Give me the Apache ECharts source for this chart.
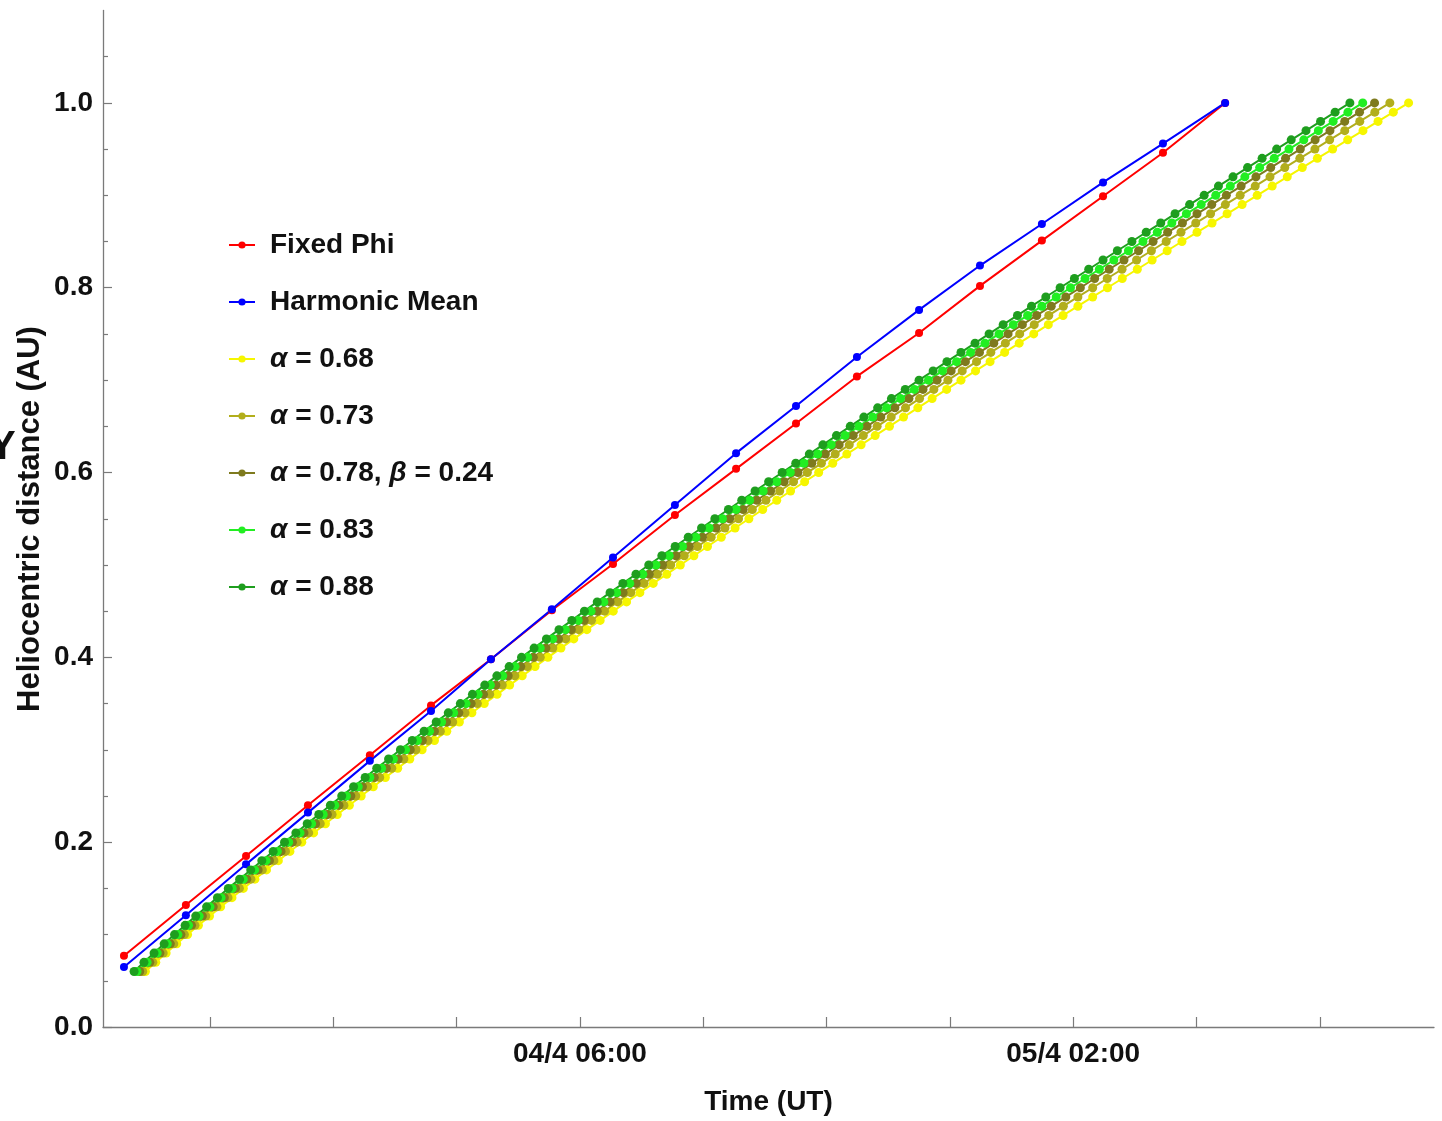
<!DOCTYPE html>
<html>
<head>
<meta charset="utf-8">
<script src="https://cdn.jsdelivr.net/npm/echarts@6/dist/echarts.min.js"></script>
<style>
html,body{margin:0;padding:0;background:#fff;}
#chart{width:1442px;height:1121px;}
</style>
</head>
<body>
<div id="chart"></div>
<script>
// x values: hours after 04/4 01:00 UT
const xTickValues = [-10, -5, 0, 5, 10, 15, 20, 25, 30, 35];
const xLabelValues = [5, 25];
const xLabelTexts = ['04/4 06:00', '05/4 02:00'];
const yTickValues = [0, 0.2, 0.4, 0.6, 0.8, 1.0];

const seriesNames = ['Fixed Phi', 'Harmonic Mean', 'α = 0.68', 'α = 0.73', 'α = 0.78, β = 0.24', 'α = 0.83', 'α = 0.88'];
const seriesColors = ['#ff0000', '#0000ff', '#f6f600', '#b2ae1c', '#7e7a1e', '#22ee22', '#1e9e1e'];

// Fixed Phi / Harmonic Mean sample times and distances
const phiTimes = [-13.49, -10.98, -8.54, -6.03, -3.52, -1.04, 1.39, 3.86, 6.34, 8.85, 11.33, 13.76, 16.23, 18.75, 21.22, 23.73, 26.21, 28.64, 31.16];
const fixedPhi = [0.077, 0.132, 0.185, 0.240, 0.294, 0.348, 0.398, 0.451, 0.501, 0.554, 0.604, 0.653, 0.704, 0.751, 0.802, 0.851, 0.899, 0.946, 1.000];
const harmonicMean = [0.065, 0.121, 0.176, 0.232, 0.288, 0.342, 0.398, 0.452, 0.508, 0.565, 0.621, 0.672, 0.725, 0.776, 0.824, 0.869, 0.914, 0.956, 1.000];

// distances of the alpha-series samples
const distanceGrid = [
 0.06,0.07,0.08,0.09,0.10,0.11,0.12,0.13,0.14,0.15,
 0.16,0.17,0.18,0.19,0.20,0.21,0.22,0.23,0.24,0.25,
 0.26,0.27,0.28,0.29,0.30,0.31,0.32,0.33,0.34,0.35,
 0.36,0.37,0.38,0.39,0.40,0.41,0.42,0.43,0.44,0.45,
 0.46,0.47,0.48,0.49,0.50,0.51,0.52,0.53,0.54,0.55,
 0.56,0.57,0.58,0.59,0.60,0.61,0.62,0.63,0.64,0.65,
 0.66,0.67,0.68,0.69,0.70,0.71,0.72,0.73,0.74,0.75,
 0.76,0.77,0.78,0.79,0.80,0.81,0.82,0.83,0.84,0.85,
 0.86,0.87,0.88,0.89,0.90,0.91,0.92,0.93,0.94,0.95,
 0.96,0.97,0.98,0.99,1.00];

const timesA068 = [
 -12.62,-12.20,-11.78,-11.35,-10.91,-10.47,-10.02,-9.57,-9.11,-8.65,
 -8.18,-7.71,-7.23,-6.76,-6.28,-5.80,-5.32,-4.84,-4.35,-3.87,
 -3.38,-2.89,-2.39,-1.90,-1.40,-0.90,-0.40,0.11,0.62,1.12,
 1.64,2.15,2.66,3.18,3.70,4.23,4.75,5.28,5.82,6.35,
 6.89,7.43,7.97,8.52,9.07,9.62,10.17,10.73,11.29,11.85,
 12.41,12.98,13.54,14.11,14.68,15.25,15.82,16.40,16.97,17.55,
 18.12,18.70,19.28,19.87,20.45,21.04,21.63,22.22,22.81,23.40,
 23.99,24.59,25.19,25.79,26.39,26.99,27.60,28.20,28.81,29.41,
 30.02,30.63,31.24,31.85,32.46,33.07,33.68,34.29,34.90,35.52,
 36.13,36.75,37.36,37.98,38.60];
const timesA073 = [
 -12.73,-12.32,-11.90,-11.47,-11.04,-10.61,-10.17,-9.72,-9.27,-8.81,
 -8.34,-7.88,-7.41,-6.94,-6.47,-6.00,-5.53,-5.05,-4.57,-4.09,
 -3.61,-3.12,-2.63,-2.14,-1.65,-1.16,-0.66,-0.16,0.34,0.84,
 1.34,1.85,2.36,2.87,3.39,3.90,4.42,4.95,5.47,6.00,
 6.53,7.06,7.60,8.14,8.68,9.23,9.77,10.32,10.88,11.43,
 11.99,12.54,13.10,13.66,14.22,14.79,15.35,15.92,16.49,17.05,
 17.62,18.20,18.77,19.35,19.92,20.50,21.08,21.66,22.25,22.83,
 23.42,24.01,24.60,25.19,25.79,26.38,26.98,27.57,28.17,28.77,
 29.37,29.97,30.57,31.17,31.77,32.38,32.98,33.58,34.19,34.80,
 35.40,36.01,36.62,37.23,37.84];
const timesA078 = [
 -12.85,-12.44,-12.03,-11.61,-11.18,-10.75,-10.31,-9.87,-9.42,-8.97,
 -8.51,-8.05,-7.59,-7.12,-6.66,-6.19,-5.72,-5.24,-4.77,-4.29,
 -3.82,-3.34,-2.85,-2.37,-1.88,-1.39,-0.90,-0.41,0.09,0.59,
 1.09,1.59,2.09,2.60,3.11,3.62,4.13,4.65,5.17,5.70,
 6.22,6.75,7.28,7.81,8.35,8.89,9.43,9.97,10.52,11.07,
 11.62,12.17,12.73,13.28,13.84,14.40,14.95,15.51,16.08,16.64,
 17.20,17.77,18.34,18.91,19.48,20.05,20.63,21.20,21.78,22.36,
 22.94,23.52,24.11,24.70,25.29,25.87,26.46,27.06,27.65,28.24,
 28.83,29.43,30.02,30.62,31.21,31.81,32.41,33.01,33.61,34.21,
 34.81,35.41,36.01,36.61,37.22];
const timesA083 = [
 -12.96,-12.55,-12.14,-11.73,-11.30,-10.87,-10.44,-10.00,-9.55,-9.10,
 -8.65,-8.19,-7.73,-7.27,-6.81,-6.35,-5.88,-5.41,-4.94,-4.47,
 -3.99,-3.52,-3.04,-2.56,-2.07,-1.59,-1.10,-0.61,-0.12,0.38,
 0.87,1.37,1.87,2.37,2.88,3.39,3.90,4.41,4.93,5.45,
 5.97,6.49,7.02,7.55,8.08,8.62,9.16,9.70,10.24,10.78,
 11.33,11.88,12.43,12.98,13.53,14.08,14.64,15.19,15.75,16.31,
 16.87,17.43,18.00,18.56,19.13,19.70,20.27,20.84,21.42,21.99,
 22.57,23.15,23.73,24.31,24.89,25.48,26.06,26.65,27.24,27.83,
 28.41,29.00,29.59,30.19,30.78,31.37,31.96,32.56,33.15,33.75,
 34.35,34.94,35.54,36.14,36.74];
const timesA088 = [
 -13.08,-12.68,-12.27,-11.86,-11.44,-11.01,-10.58,-10.14,-9.70,-9.26,
 -8.80,-8.35,-7.90,-7.44,-6.98,-6.52,-6.06,-5.59,-5.12,-4.66,
 -4.18,-3.71,-3.24,-2.76,-2.28,-1.80,-1.32,-0.83,-0.34,0.15,
 0.64,1.14,1.63,2.13,2.63,3.14,3.64,4.15,4.67,5.18,
 5.70,6.22,6.74,7.27,7.79,8.32,8.86,9.39,9.93,10.47,
 11.02,11.56,12.10,12.65,13.20,13.75,14.30,14.85,15.40,15.96,
 16.51,17.07,17.63,18.19,18.75,19.32,19.88,20.45,21.02,21.59,
 22.16,22.74,23.31,23.89,24.47,25.05,25.63,26.21,26.79,27.38,
 27.96,28.55,29.13,29.72,30.31,30.89,31.48,32.07,32.66,33.25,
 33.84,34.44,35.03,35.62,36.22];

const REG = "'Liberation Sans', Arial, sans-serif";
const yTitle = 'Heliocentric distance (AU)';

const pair = (xs, ys) => xs.map((x, i) => [x, ys[i]]);
const seriesData = [
  pair(phiTimes, fixedPhi),
  pair(phiTimes, harmonicMean),
  pair(timesA068, distanceGrid),
  pair(timesA073, distanceGrid),
  pair(timesA078, distanceGrid),
  pair(timesA083, distanceGrid),
  pair(timesA088, distanceGrid)
];

const txt = {fontFamily: REG, fontWeight: 'bold', fontSize: 28, color: '#111'};

const chart = echarts.init(document.getElementById('chart'), null, {renderer: 'canvas'});
chart.setOption({
  animation: false,
  backgroundColor: '#ffffff',
  textStyle: {fontFamily: REG},
  grid: {left: 103, right: 8, top: 10.5, bottom: 93, containLabel: false},
  legend: {
    orient: 'vertical',
    left: 223,
    top: 224,
    itemWidth: 26,
    itemHeight: 9,
    itemGap: 25,
    data: seriesNames,
    formatter: name => name.replace(/([αβ])/g, '{g|$1}'),
    textStyle: Object.assign({}, txt, {
      lineHeight: 32, padding: [0, 0, 0, 10],
      rich: {g: Object.assign({}, txt, {fontStyle: 'italic', lineHeight: 32})}
    })
  },
  xAxis: {
    type: 'value',
    min: -14.34,
    max: 39.63,
    name: 'Time (UT)',
    nameLocation: 'middle',
    nameGap: 61,
    nameTextStyle: txt,
    axisLine: {show: true, onZero: false, lineStyle: {color: '#7a7a7a', width: 1.3}},
    axisTick: {show: true, inside: true, length: 10, customValues: xTickValues, lineStyle: {color: '#7a7a7a', width: 1.2}},
    axisLabel: Object.assign({
      show: true, margin: 13, customValues: xLabelValues,
      formatter: v => { const i = xLabelValues.indexOf(v); return i >= 0 ? xLabelTexts[i] : ''; }
    }, txt),
    splitLine: {show: false}
  },
  yAxis: {
    type: 'value',
    min: 0,
    max: 1.1,
    interval: 0.2,
    axisLine: {show: true, onZero: false, lineStyle: {color: '#7a7a7a', width: 1.3}},
    axisTick: {show: true, inside: true, length: 9, customValues: yTickValues, lineStyle: {color: '#7a7a7a', width: 1.2}},
    minorTick: {show: true, splitNumber: 4, length: 5, lineStyle: {color: '#7a7a7a', width: 1.2}},
    axisLabel: Object.assign({
      show: true, margin: 10, customValues: yTickValues,
      formatter: v => v.toFixed(1)
    }, txt),
    splitLine: {show: false}
  },
  graphic: [
    {
      type: 'text', x: 30, y: 519, rotation: Math.PI / 2,
      style: {text: yTitle, font: "bold 31px 'Liberation Sans', Arial, sans-serif", fill: '#111', align: 'center', verticalAlign: 'middle'}
    },
    {
      type: 'text', x: -11, y: 428,
      style: {text: 'Y', font: "bold 40px 'Liberation Sans', Arial, sans-serif", fill: '#111'}
    }
  ],
  series: seriesNames.map((name, i) => ({
    name: name,
    type: 'line',
    data: seriesData[i],
    symbol: 'circle',
    symbolSize: i < 2 ? 8 : 9,
    showSymbol: true,
    clip: false,
    lineStyle: {color: seriesColors[i], width: 2},
    itemStyle: {color: seriesColors[i]},
    emphasis: {disabled: true}
  }))
});
</script>
</body>
</html>
